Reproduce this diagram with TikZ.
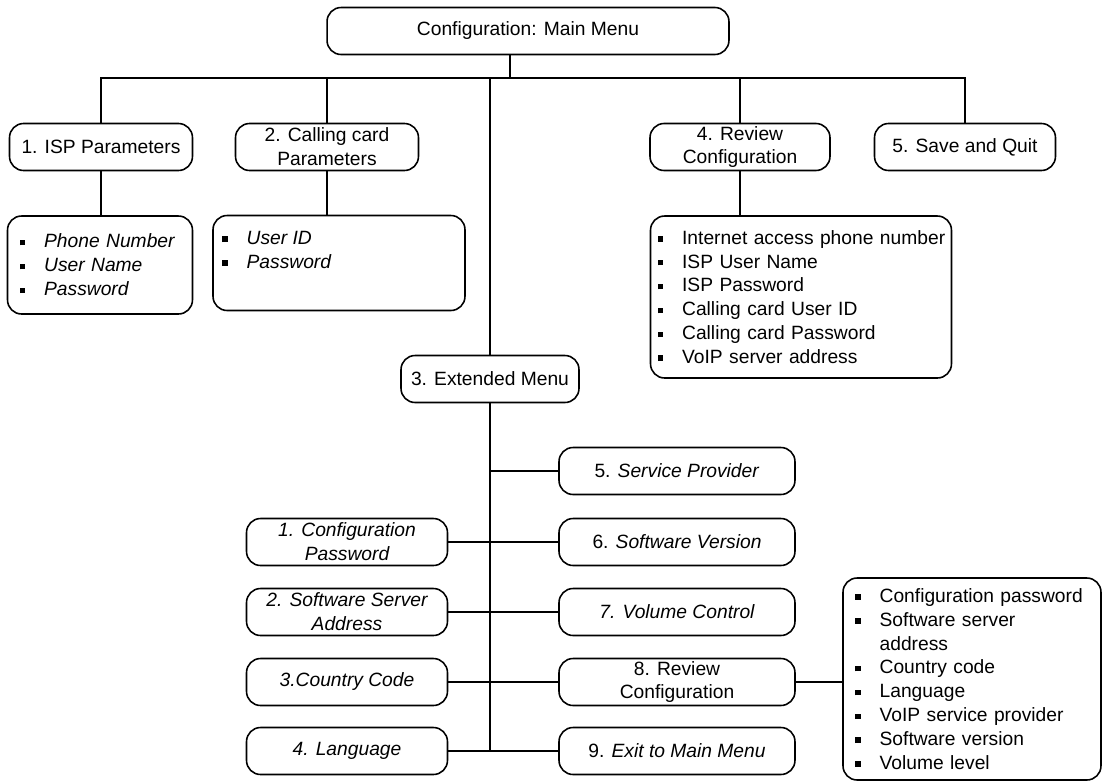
\documentclass[tikz,border=0pt,11pt]{standalone}
\usepackage{fontspec}
\setmainfont{Liberation Sans}
\usepackage{tikz}

\newcommand{\sqb}{\rule[0.25ex]{3.2pt}{3.2pt}}
\newcommand{\itm}[1]{\mbox{\makebox[14pt][l]{\sqb}#1}}

\tikzset{
  menu/.style={draw,line width=0.9pt,rounded corners=8pt,align=center,minimum height=0.94cm,inner sep=1pt},
  listbox/.style={draw,line width=0.9pt,rounded corners=8pt,align=left,inner ysep=0pt},
  link/.style={line width=0.9pt}
}

\begin{document}
\begin{tikzpicture}[x=0.02cm,y=-0.02cm]
		\useasboundingbox (0,0) rectangle (1103,782);

		% main menu and first level
		\node[menu,minimum width=8.04cm] (main) at (528,31) {Configuration: Main Menu};
		\node[menu,minimum width=3.66cm] (isp) at (101,147) {1. ISP Parameters};
		\node[menu,minimum width=3.66cm] (card) at (327,147) {2. Calling card\\Parameters};
		\node[menu,minimum width=3.6cm] (review) at (740,147) {4. Review\\Configuration};
		\node[menu,minimum width=3.62cm] (save) at (965,147) {5. Save and Quit};

		\node[listbox,font=\itshape,inner xsep=0.24cm,text width=3.22cm,minimum height=1.96cm] (isplist) at (100,265)
			{\itm{Phone Number}\\\itm{User Name}\\\itm{Password}};
		\node[listbox,font=\itshape,inner xsep=0.18cm] (cardlist) at (339,263)
			{\parbox[c][1.9cm][t]{4.68cm}{\vspace{9pt}\itm{User ID}\\\itm{Password}}};
		\node[listbox,inner xsep=0.14cm,text width=5.74cm,minimum height=3.24cm] (revlist) at (801,297)
			{\itm{Internet access phone number}\\\itm{ISP User Name}\\\itm{ISP Password}\\
			 \itm{Calling card User ID}\\\itm{Calling card Password}\\\itm{VoIP server address}};

		% extended menu
		\node[menu,minimum width=3.56cm] (ext) at (490,379) {3. Extended Menu};

		\node[menu,minimum width=4.72cm] (svc) at (677,471) {5. \textit{Service Provider}};
		\node[menu,minimum width=4.72cm] (swver) at (677,542) {6. \textit{Software Version}};
		\node[menu,minimum width=4.72cm,font=\itshape] (vol) at (677,612) {7. Volume Control};
		\node[menu,minimum width=4.72cm] (rev8) at (677,682) {8. Review\\Configuration};
		\node[menu,minimum width=4.72cm] (exit) at (677,751) {9. \textit{Exit to Main Menu}};

		\node[menu,minimum width=4.02cm,font=\itshape] (cfgpw) at (347,542) {1. Configuration\\Password};
		\node[menu,minimum width=4.02cm,font=\itshape] (srvaddr) at (347,612) {2. Software Server\\Address};
		\node[menu,minimum width=4.02cm,font=\itshape] (country) at (347,682) {3.Country Code};
		\node[menu,minimum width=4.02cm,font=\itshape] (lang) at (347,751) {4. Language};

		\node[listbox,inner xsep=0.24cm,text width=4.68cm,minimum height=4.04cm] (list8) at (972,679)
			{\itm{Configuration password}\\\itm{Software server}\\\hspace*{14pt}address\\\itm{Country code}\\
			 \itm{Language}\\\itm{VoIP service provider}\\\itm{Software version}\\\itm{Volume level}};

		% connectors
		\coordinate (bar) at (510,78);
		\draw[link] (main.south -| bar) -- (bar);
		\draw[link] (isp.north) |- (bar) -| (save.north);
		\draw[link] (card.north) -- (card.north |- bar);
		\draw[link] (review.north) -- (review.north |- bar);
		\draw[link] (ext.north) -- (ext.north |- bar);

		\draw[link] (isp.south) -- (isp.south |- isplist.north);
		\draw[link] (card.south) -- (card.south |- cardlist.north);
		\draw[link] (review.south) -- (review.south |- revlist.north);

		\draw[link] (ext.south) -- (ext.south |- lang.east);
		\draw[link] (ext.south |- svc.west) -- (svc.west);
		\draw[link] (cfgpw.east) -- (swver.west);
		\draw[link] (srvaddr.east) -- (vol.west);
		\draw[link] (country.east) -- (rev8.west);
		\draw[link] (lang.east) -- (exit.west);
		\draw[link] (rev8.east) -- (rev8.east -| list8.west);
	\end{tikzpicture}
\end{document}
